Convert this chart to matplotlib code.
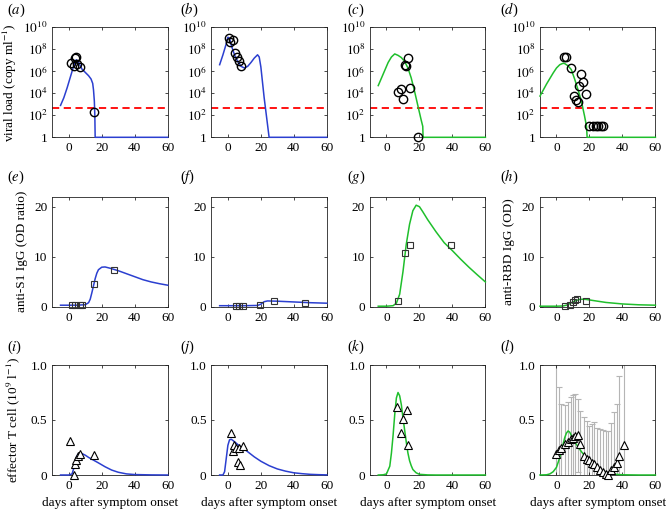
import numpy as np
import matplotlib
matplotlib.use('Agg')
import matplotlib.pyplot as plt

plt.rcParams['font.family'] = ['Liberation Serif', 'DejaVu Serif']
plt.rcParams['mathtext.fontset'] = 'stix'
plt.rcParams['font.size'] = 8.5

#colours
blue = '#2b3fd0'
green = '#1fbf2c'

#viral load curves, log10 values (row 1)
a_day = [-5, -3, -1, 1, 3, 4.5, 6, 8, 10, 12, 13.5, 14.5, 15, 15.5, 15.8, 16, 60]
a_log = [2.9, 3.6, 4.5, 5.5, 6.5, 7.05, 6.8, 6.2, 5.9, 5.6, 5.3, 4.9, 4.3, 3.3, 2.0, 0, 0]
b_day = [-5, -3, -1, 0, 1, 2, 4, 6, 8, 10, 12, 14, 16, 18, 19, 20, 21, 22, 23, 24, 25, 60]
b_log = [6.6, 7.5, 8.5, 9.1, 9.0, 8.4, 7.5, 6.9, 6.45, 6.3, 6.45, 6.8, 7.2, 7.5, 7.3, 6.4, 5.0, 3.6, 2.4, 1.2, 0, 0]
c_day = [-5, -3, -1, 1, 3, 5, 7, 9, 11, 13, 15, 17, 19, 21, 22, 22.2, 60]
c_log = [4.7, 5.4, 6.1, 6.8, 7.3, 7.58, 7.45, 7.25, 6.9, 6.3, 5.4, 4.2, 2.9, 1.6, 1.0, 0, 0]
d_day = [-10, -8, -6, -4, -2, 0, 2, 4, 5, 7, 9, 11, 13, 15, 17, 18.2, 18.6, 60]
d_log = [3.75, 4.3, 4.85, 5.35, 5.85, 6.3, 6.6, 6.73, 6.7, 6.5, 6.15, 5.3, 4.35, 3.35, 1.95, 1.0, 0, 0]

#viral load measurements
a_pt_day = [1.5, 3, 3.5, 4.5, 5, 7, 15.5]
a_pt_log = [6.8, 6.5, 7.25, 7.3, 6.7, 6.35, 2.3]
b_pt_day = [0.5, 1.5, 3, 4.5, 5.5, 6.5, 8]
b_pt_log = [9.0, 8.7, 8.85, 7.7, 7.3, 6.95, 6.5]
c_pt_day = [7, 9, 10, 11, 12, 13, 14.5, 19]
c_pt_log = [4.15, 4.4, 3.45, 6.6, 6.5, 7.25, 4.5, 0]
d_pt_day = [4.5, 5.8, 9, 10.9, 11.8, 12.8, 13.9, 15, 16, 17.9, 20, 22, 23.8, 25.4, 26.8, 28.3]
d_pt_log = [7.3, 7.3, 6.27, 3.76, 3.4, 3.24, 4.62, 5.74, 5.0, 3.92, 1, 1, 1, 1, 1, 1]
detection_limit = 10 ** 2.64

#antibody curves (row 2)
e_day = [-5, 0, 5, 10, 12, 13, 14, 15, 16, 17, 18, 20, 22, 25, 30, 35, 40, 45, 50, 55, 60]
e_val = [0.3, 0.3, 0.3, 0.4, 0.8, 1.5, 2.8, 4.2, 5.6, 6.7, 7.4, 7.9, 7.95, 7.7, 7.2, 6.6, 6.0, 5.4, 4.95, 4.6, 4.3]
f_day = [-5, 0, 10, 18, 20, 22, 24, 30, 40, 50, 60]
f_val = [0.2, 0.2, 0.2, 0.25, 0.5, 1.0, 1.15, 1.1, 0.95, 0.8, 0.7]
g_day = [-5, 0, 4, 6, 8, 10, 12, 14, 16, 18, 20, 22, 25, 30, 35, 40, 45, 50, 55, 60]
g_val = [0.1, 0.1, 0.2, 0.7, 2.5, 7.0, 12.5, 16.5, 19.2, 20.3, 20.0, 19.0, 17.4, 15.0, 12.8, 11.2, 9.5, 7.9, 6.4, 4.95]
h_day = [-10, 0, 4, 6, 8, 10, 12, 14, 16, 18, 20, 25, 30, 40, 50, 60]
h_val = [0.1, 0.1, 0.15, 0.3, 0.6, 0.95, 1.25, 1.45, 1.5, 1.45, 1.35, 1.1, 0.85, 0.55, 0.38, 0.3]

#antibody measurements
e_pt_day = [2, 3.5, 6.5, 8, 15.5, 27.5]
e_pt_val = [0.3, 0.3, 0.3, 0.3, 4.5, 7.3]
f_pt_day = [5, 6.5, 9, 19.5, 28, 47]
f_pt_val = [0.15, 0.15, 0.15, 0.35, 1.1, 0.75]
g_pt_day = [7.2, 11.3, 14.3, 39.2]
g_pt_val = [1.1, 10.7, 12.3, 12.3]
h_pt_day = [5, 8, 10, 11, 12.5, 18]
h_pt_val = [0.2, 0.3, 1.0, 1.3, 1.5, 1.1]

#effector T cell curves (row 3)
i_day = [-5, 0, 2, 3, 4, 5, 6, 7, 8, 10, 12, 15, 18, 22, 26, 30, 35, 40, 50, 60]
i_val = [0, 0, 0.01, 0.06, 0.13, 0.175, 0.195, 0.2, 0.195, 0.18, 0.16, 0.135, 0.11, 0.075, 0.045, 0.025, 0.01, 0.004, 0.001, 0]
j_day = [-5, -3, -2, -1, 0, 1, 2, 3, 5, 7, 10, 13, 16, 20, 25, 30, 35, 40, 45, 50, 55, 60]
j_val = [0, 0, 0.03, 0.15, 0.27, 0.32, 0.325, 0.315, 0.29, 0.265, 0.235, 0.2, 0.165, 0.125, 0.085, 0.055, 0.035, 0.02, 0.012, 0.006, 0.003, 0.001]
k_day = [-5, -2, 0, 2, 3, 4, 5, 6, 7, 8, 9, 10, 11, 12, 13, 14, 15, 16, 18, 20, 25, 30, 60]
k_val = [0, 0.002, 0.01, 0.08, 0.2, 0.36, 0.55, 0.7, 0.75, 0.72, 0.64, 0.52, 0.41, 0.3, 0.2, 0.13, 0.085, 0.05, 0.02, 0.006, 0.001, 0, 0]
l_day = [-10, -6, -4, -2, 0, 2, 4, 5, 6, 7, 8, 9, 10, 12, 14, 16, 18, 20, 22, 25, 28, 31, 35, 40, 50, 60]
l_val = [0, 0.002, 0.01, 0.03, 0.07, 0.16, 0.28, 0.34, 0.38, 0.4, 0.39, 0.36, 0.33, 0.28, 0.235, 0.195, 0.16, 0.125, 0.095, 0.06, 0.035, 0.018, 0.007, 0.002, 0, 0]

#effector T cell measurements
i_pt_day = [0.5, 3, 3.5, 4.5, 5.5, 6.5, 15]
i_pt_val = [0.31, 0.0, 0.10, 0.14, 0.17, 0.19, 0.18]
j_pt_day = [2, 3, 4, 5, 6, 7, 7.5, 9]
j_pt_val = [0.38, 0.22, 0.27, 0.25, 0.12, 0.25, 0.09, 0.26]
k_pt_day = [6.2, 9, 10, 12.3, 13]
k_pt_val = [0.62, 0.38, 0.51, 0.59, 0.27]
l_pt_day = [0, 1.6, 3, 5.1, 6.7, 8.7, 10, 11.4, 12.8, 14.4, 16.9, 18.3, 19.9, 21.5, 23, 24.6, 26.4, 28, 30, 31, 33, 35, 36.6, 38.2, 40.8]
l_pt_val = [0.19, 0.23, 0.25, 0.28, 0.30, 0.33, 0.34, 0.355, 0.36, 0.28, 0.17, 0.15, 0.135, 0.11, 0.10, 0.075, 0.045, 0.025, 0.01, 0.0, 0.045, 0.07, 0.105, 0.17, 0.27]
l_pt_top = [1.3, 0.80, 0.65, 0.64, 0.66, 0.71, 0.73, 0.74, 0.69, 0.58, 0.53, 0.49, 0.45, 0.46, 0.48, 0.43, 0.42, 0.41, 0.40, 0.40, 0.47, 0.57, 0.65, 0.90, 1.3]

log_ticks = [1, 1e2, 1e4, 1e6, 1e8, 1e10]
log_labels = ['1', '$10^{2}$', '$10^{4}$', '$10^{6}$', '$10^{8}$', '$10^{10}$']
panel_names = ['a', 'b', 'c', 'd', 'e', 'f', 'g', 'h', 'i', 'j', 'k', 'l']

#layout in pixels
W, H = 666, 516
col_left = [52.3, 211.4, 370, 540]
row_top = [27.3, 196.7, 365]
ax_w, ax_h = 115.4, 110
label_x = [7, 180, 347, 500]
label_y = [10, 177, 347]

fig = plt.figure(figsize=(W / 100, H / 100), dpi=100)
axes = []
for r in range(3):
    for c in range(4):
        ax = fig.add_axes([col_left[c] / W, 1 - (row_top[r] + ax_h) / H, ax_w / W, ax_h / H])
        ax.set_xlim(-10, 60)
        ax.set_xticks([0, 20, 40, 60])
        ax.tick_params(direction='in', top=True, right=True, length=2.5, width=0.5, labelsize=9.5)
        for s in ax.spines.values():
            s.set_linewidth(0.6)
            s.set_color('#222222')
        axes.append(ax)
        fig.text(label_x[c] / W, 1 - label_y[r] / H, '($\\mathit{%s}$)' % panel_names[r * 4 + c],
                 fontsize=10.5, va='center', ha='left')

line_kw = dict(lw=1.1, clip_on=False, zorder=3)
circ = dict(marker='o', ms=6, mfc='none', mec='black', mew=1.0, ls='none', zorder=4)
sq = dict(marker='s', ms=5, mfc='none', mec='#333333', mew=0.8, ls='none', zorder=4)
tri = dict(marker='^', ms=6, mfc='white', mec='black', mew=0.8, ls='none', zorder=4)

#row 1: viral load
row1 = [(a_day, a_log, a_pt_day, a_pt_log, blue), (b_day, b_log, b_pt_day, b_pt_log, blue),
        (c_day, c_log, c_pt_day, c_pt_log, green), (d_day, d_log, d_pt_day, d_pt_log, green)]
for ax, (dd, lv, pd_, pl, col) in zip(axes[0:4], row1):
    ax.set_yscale('log')
    ax.set_ylim(1, 1e10)
    ax.plot(dd, 10 ** np.array(lv), color=col, **line_kw)
    ax.plot(pd_, 10 ** np.array(pl), clip_on=False, **circ)
    ax.axhline(detection_limit, color='red', ls=(0, (4, 2.5)), lw=1.3, zorder=2)
    ax.set_yticks(log_ticks)
    ax.set_yticklabels(log_labels)
    ax.yaxis.set_minor_locator(matplotlib.ticker.NullLocator())
axes[0].set_ylabel('viral load (copy ml$^{-1}$)', fontsize=9.5)
axes[0].yaxis.set_label_coords(-0.29, 0.5)

#row 2: antibodies
row2 = [(e_day, e_val, e_pt_day, e_pt_val, blue), (f_day, f_val, f_pt_day, f_pt_val, blue),
        (g_day, g_val, g_pt_day, g_pt_val, green), (h_day, h_val, h_pt_day, h_pt_val, green)]
for ax, (dd, v, pd_, pv, col) in zip(axes[4:8], row2):
    ax.set_ylim(0, 22)
    ax.set_yticks([0, 10, 20])
    ax.plot(dd, v, color=col, **line_kw)
    ax.plot(pd_, pv, clip_on=False, **sq)
axes[4].set_ylabel('anti-S1 IgG (OD ratio)', fontsize=9.5)
axes[4].yaxis.set_label_coords(-0.213, 0.5)
axes[7].set_ylabel('anti-RBD IgG (OD)', fontsize=9.5)
axes[7].yaxis.set_label_coords(-0.217, 0.5)

#row 3: effector T cells
row3 = [(i_day, i_val, i_pt_day, i_pt_val, blue), (j_day, j_val, j_pt_day, j_pt_val, blue),
        (k_day, k_val, k_pt_day, k_pt_val, green), (l_day, l_val, l_pt_day, l_pt_val, green)]
for ax, (dd, v, pd_, pv, col) in zip(axes[8:12], row3):
    ax.set_ylim(0, 1)
    ax.set_yticks([0, 0.5, 1.0])
    ax.set_yticklabels(['0', '0.5', '1.0'])
    ax.plot(dd, v, color=col, **line_kw)
    ax.plot(pd_, pv, clip_on=False, **tri)
    ax.set_xlabel('days after symptom onset', fontsize=9.5)

#standard deviations in panel l
sd = np.array(l_pt_top) - np.array(l_pt_val)
axes[11].errorbar(l_pt_day, l_pt_val, yerr=sd, fmt='none', ecolor='#b5b5b5', elinewidth=0.8,
                  capsize=2, capthick=0.8, zorder=1)
axes[8].set_ylabel('effector T cell (10$^{9}$ l$^{-1}$)', fontsize=9.5)
axes[8].yaxis.set_label_coords(-0.263, 0.5)

fig.savefig('out.png', dpi=100)
